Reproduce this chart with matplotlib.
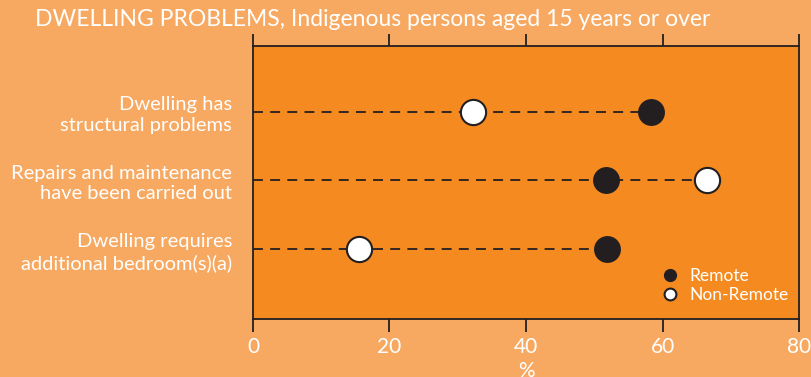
import matplotlib
matplotlib.use("Agg")
import matplotlib.pyplot as plt
from matplotlib.lines import Line2D

categories = [
    "Dwelling has\nstructural problems",
    "Repairs and maintenance\nhave been carried out",
    "Dwelling requires\nadditional bedroom(s)(a)",
]
remote = [58.3, 51.7, 51.9]
non_remote = [32.3, 66.5, 15.6]
x_ticks = [0, 20, 40, 60, 80]

outer_bg = "#F8A961"
inner_bg = "#F58B20"
dark = "#231F20"
white = "#FFFFFF"

plt.rcParams["font.family"] = ["Lato", "DejaVu Sans"]

fig = plt.figure(figsize=(8.12, 3.77), dpi=100, facecolor=outer_bg)
ax = fig.add_axes([253 / 812, 1 - 319 / 377, 546 / 812, 273 / 377])
ax.set_facecolor(inner_bg)

ypos = [2, 1, 0]
for y, r, n in zip(ypos, remote, non_remote):
    ax.hlines(y, 0, max(r, n), colors=dark, linewidth=1.3,
              linestyles=(0, (5.5, 4)), zorder=1)
ax.scatter(remote, ypos, s=330, color=dark, edgecolors=dark, linewidths=1.2, zorder=3)
ax.scatter(non_remote, ypos, s=330, color=white, edgecolors=dark, linewidths=1.5, zorder=3)

ax.set_xlim(0, 80)
ax.set_ylim(-1.02, 2.96)
ax.set_xticks(x_ticks)
ax.set_xticklabels([str(t) for t in x_ticks], color=white, fontsize=15)
ax.tick_params(axis="x", which="both", direction="out", length=9, width=1.3,
               color=dark, top=True, labeltop=False, pad=4)
ax.set_yticks(ypos)
ax.set_yticklabels(categories, color=white, fontsize=14.5, linespacing=1.25)
ax.tick_params(axis="y", length=0, pad=15)
for lbl in ax.get_yticklabels():
    lbl.set_horizontalalignment("right")
    lbl.set_multialignment("right")
for sp in ax.spines.values():
    sp.set_color(dark)
    sp.set_linewidth(1.3)

ax.set_xlabel("%", color=white, fontsize=15, labelpad=3)

handles = [
    Line2D([], [], marker="o", linestyle="none", markersize=8.5,
           markerfacecolor=dark, markeredgecolor=dark, label="Remote"),
    Line2D([], [], marker="o", linestyle="none", markersize=8.5,
           markerfacecolor=white, markeredgecolor=dark, markeredgewidth=1.5,
           label="Non-Remote"),
]
leg = ax.legend(handles=handles, loc="lower right", frameon=False,
                fontsize=12.5, handletextpad=0.1, labelspacing=0.2,
                borderaxespad=0.2, bbox_to_anchor=(1.0, 0.02))
for t in leg.get_texts():
    t.set_color(white)

fig.text(35 / 812, 1 - 20 / 377, "DWELLING PROBLEMS, Indigenous persons aged 15 years or over",
         color=white, fontsize=16.5, ha="left", va="center")

fig.savefig("out.png", dpi=100, facecolor=outer_bg)
